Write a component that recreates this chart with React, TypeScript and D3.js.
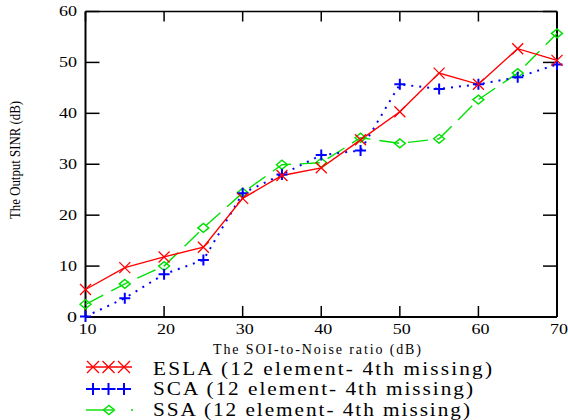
import React from "react";
import * as d3 from "d3";

const snr = [10, 15, 20, 25, 30, 35, 40, 45, 50, 55, 60, 65, 70];
const eslaValues = [5.4, 9.7, 11.8, 13.7, 23.3, 27.8, 29.3, 34.8, 40.3, 47.9, 45.7, 52.7, 50.4];
const scaValues = [0.1, 3.7, 8.4, 11.2, 24.3, 28.0, 31.8, 32.7, 45.7, 44.8, 45.7, 47.1, 49.6];
const ssaValues = [2.5, 6.5, 10.0, 17.5, 24.4, 29.9, 30.3, 35.2, 34.1, 35.0, 42.7, 47.9, 55.7];
const xTicks = [10, 20, 30, 40, 50, 60, 70];
const yTicks = [0, 10, 20, 30, 40, 50, 60];
const legendLabels = [
  "ESLA (12 element- 4th missing)",
  "SCA (12 element- 4th missing)",
  "SSA (12 element- 4th missing)",
];
const xTitle = "The SOI-to-Noise ratio (dB)";
const yTitle = "The Output SINR (dB)";

const FONT = "'Liberation Serif', 'Times New Roman', Times, serif";

export default function App() {
  const x = d3.scaleLinear().domain([10, 70]).range([85.5, 557]);
  const y = d3.scaleLinear().domain([0, 60]).range([317, 11.5]);
  const line = (vals: number[]) =>
    d3.line<number>().x((_, i) => x(snr[i])).y((v) => y(v))(vals) || "";

  const xMark = (cx: number, cy: number, r: number, key: string) => (
    <path key={key} d={`M${cx - r},${cy - r}L${cx + r},${cy + r}M${cx - r},${cy + r}L${cx + r},${cy - r}`} stroke="#ff0000" strokeWidth={1.3} fill="none" />
  );
  const plusMark = (cx: number, cy: number, r: number, key: string) => (
    <path key={key} d={`M${cx - r},${cy}L${cx + r},${cy}M${cx},${cy - r}L${cx},${cy + r}`} stroke="#0000ff" strokeWidth={2} fill="none" />
  );
  const diamond = (cx: number, cy: number, key: string) => (
    <path key={key} d={`M${cx - 5.5},${cy}L${cx},${cy - 4.5}L${cx + 5.5},${cy}L${cx},${cy + 4.5}Z`} stroke="#00e000" strokeWidth={1.4} fill="none" />
  );

  const L = 85.5, R = 557, T = 11.5, B = 317;
  const SX = 1.15;

  return (
    <svg width={568} height={420} style={{ position: "absolute", left: 0, top: 0, background: "#fff" }}>
      <rect width={568} height={420} fill="#fff" />
      {/* frame */}
      <line x1={L} x2={R} y1={T} y2={T} stroke="#000" strokeWidth={1.3} />
      <line x1={L} x2={L} y1={T} y2={B} stroke="#000" strokeWidth={2} />
      <line x1={L} x2={R} y1={B} y2={B} stroke="#000" strokeWidth={2} />
      <line x1={R} x2={R} y1={T} y2={B} stroke="#000" strokeWidth={2} />
      {/* ticks */}
      {xTicks.map((t) => (
        <g key={"xt" + t}>
          <line x1={x(t)} x2={x(t)} y1={B} y2={B - 11} stroke="#000" strokeWidth={1.5} />
          <line x1={x(t)} x2={x(t)} y1={T} y2={T + 10} stroke="#000" strokeWidth={1.5} />
          <text x={x(t) + 2} y={334} fontFamily={FONT} fontSize={15} textAnchor="middle" textLength={18} lengthAdjust="spacingAndGlyphs">{t}</text>
        </g>
      ))}
      {yTicks.map((t) => (
        <g key={"yt" + t}>
          <line x1={L} x2={L + 14} y1={y(t)} y2={y(t)} stroke="#000" strokeWidth={1.5} />
          <line x1={R} x2={R - 14} y1={y(t)} y2={y(t)} stroke="#000" strokeWidth={1.5} />
          <text x={77} y={y(t) + 4.5} fontFamily={FONT} fontSize={15} textAnchor="end" textLength={t === 0 ? 10 : 18} lengthAdjust="spacingAndGlyphs">{t}</text>
        </g>
      ))}
      {/* titles */}
      <text x={317} y={354} fontFamily={FONT} fontSize={14} textAnchor="middle" textLength={208} lengthAdjust="spacing">{xTitle}</text>
      <text transform="translate(20,160) rotate(-90)" fontFamily={FONT} fontSize={15} textAnchor="middle" textLength={118} lengthAdjust="spacingAndGlyphs">{yTitle}</text>
      {/* series */}
      <path d={line(ssaValues)} stroke="#00e000" strokeWidth={1.4} fill="none" strokeDasharray="20,9" />
      <path d={line(scaValues)} stroke="#0000ff" strokeWidth={2} fill="none" strokeDasharray="2,6" />
      <path d={line(eslaValues)} stroke="#ff0000" strokeWidth={1.4} fill="none" />
      {ssaValues.map((v, i) => diamond(x(snr[i]), y(v), "d" + i))}
      {scaValues.map((v, i) => plusMark(x(snr[i]), y(v), 5.5, "p" + i))}
      {eslaValues.map((v, i) => xMark(x(snr[i]), y(v), 5.5, "x" + i))}
      {/* legend */}
      <line x1={86} x2={132} y1={367} y2={367} stroke="#ff0000" strokeWidth={1.3} />
      {[93, 108.5, 124].map((cx, i) => xMark(cx, 367, 6, "lx" + i))}
      {[93, 108.5, 124].map((cx, i) => (
        <path key={"lp" + i} d={`M${cx - 7},389L${cx + 7},389M${cx},${383}L${cx},${395}`} stroke="#0000ff" strokeWidth={2} fill="none" />
      ))}
      <line x1={86} x2={113} y1={410} y2={410} stroke="#00e000" strokeWidth={1.4} />
      {diamond(109, 410, "ld")}
      <line x1={131} x2={133} y1={410} y2={410} stroke="#00e000" strokeWidth={1.4} />
      {legendLabels.map((s, i) => (
        <g key={"lt" + i} transform={`translate(153,0) scale(${SX},1)`}>
          <text x={0} y={[375, 395.5, 416.5][i]} fontFamily={FONT} fontSize={18.5} textLength={[339, 320, 317][i] / SX} lengthAdjust="spacing">{s}</text>
        </g>
      ))}
    </svg>
  );
}
